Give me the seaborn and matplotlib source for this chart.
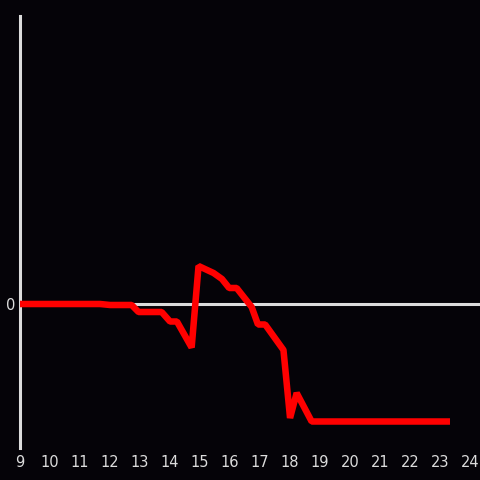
import matplotlib
matplotlib.use('Agg')
import matplotlib.pyplot as plt
import pandas as pd
import seaborn as sns

# --- data ---
hours = [9.0, 11.67, 12.0, 12.72, 12.95, 13.72, 14.0, 14.23, 14.72, 14.95,
         15.45, 15.73, 15.97, 16.22, 16.72, 16.93, 17.17, 17.78, 18.0, 18.22,
         18.72, 23.33]
values = [0, 0, -1, -1, -8, -8, -17.5, -17.5, -43.5, 38,
          31, 25, 16, 16, -3, -20.5, -20.5, -46, -114, -89,
          -117.5, -117.5]
x_ticks = list(range(9, 25))
y_ticks = [0]

BG = '#050308'
FG = '#dcdcdc'

sns.set_theme(style='dark')
plt.rcParams['font.family'] = ['DejaVu Sans']

df = pd.DataFrame({'hour': hours, 'value': values})

fig = plt.figure(figsize=(4.8, 4.8), dpi=100, facecolor=BG)
ax = fig.add_axes([20 / 480, 32 / 480, 460 / 480, 432 / 480])
ax.set_facecolor(BG)

ax.axhline(0, color=FG, lw=2.2, zorder=1)
sns.lineplot(data=df, x='hour', y='value', ax=ax, color='#ff0000', lw=4.7,
             sort=False, zorder=3, solid_capstyle='butt', solid_joinstyle='bevel')

ax.set_xlim(9, 24.33)
ax.set_ylim(-144, 288)
ax.set_xticks(x_ticks)
ax.set_xticklabels([str(t) for t in x_ticks])
ax.set_yticks(y_ticks)
ax.set_yticklabels(['0'])
ax.set_xlabel('')
ax.set_ylabel('')
ax.grid(False)

for side in ['top', 'right', 'bottom']:
    ax.spines[side].set_visible(False)
ax.spines['left'].set_color(FG)
ax.spines['left'].set_linewidth(2.2)
ax.spines['left'].set_zorder(2)

ax.tick_params(axis='both', length=0, colors=FG, labelsize=10.5)
ax.tick_params(axis='x', pad=5)
ax.tick_params(axis='y', pad=3)

fig.savefig('out.png', dpi=100, facecolor=BG)
